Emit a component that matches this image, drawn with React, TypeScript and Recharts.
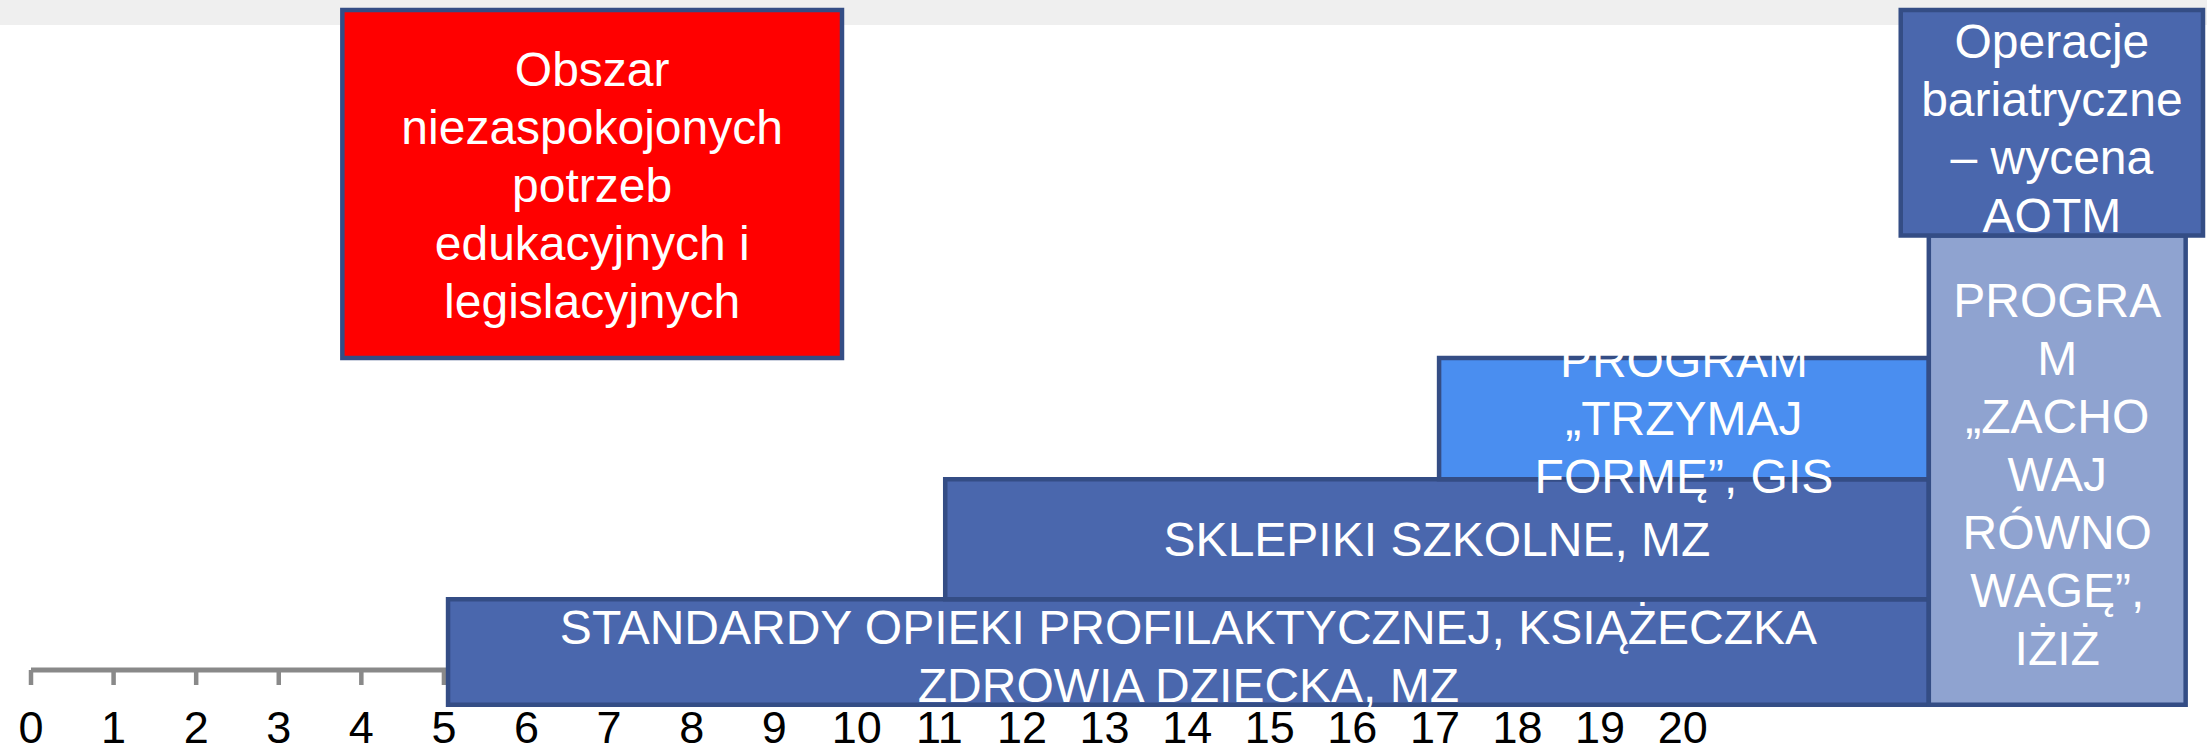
import React from 'react';
import { ComposedChart, XAxis, YAxis, ReferenceArea, ReferenceLine } from 'recharts';

// age axis (years)
const ageTicks = [0, 1, 2, 3, 4, 5, 6, 7, 8, 9, 10, 11, 12, 13, 14, 15, 16, 17, 18, 19, 20];

// boxes: age from / to, level from / to
const boxIds = ['standardy', 'sklepiki', 'trzymaj', 'obszar', 'zachowaj', 'operacje'];
const boxAgeFrom = [5.05, 11.07, 17.05, 3.77, 22.98, 22.64];
const boxAgeTo = [22.98, 22.98, 22.98, 9.82, 26.09, 26.3];
const boxLevelFrom = [-0.29, 0.59, 1.59, 2.6, -0.29, 3.62];
const boxLevelTo = [0.59, 1.59, 2.6, 5.5, 3.62, 5.5];
const boxText = [
  ['STANDARDY OPIEKI PROFILAKTYCZNEJ, KSIĄŻECZKA', 'ZDROWIA DZIECKA, MZ'],
  ['SKLEPIKI SZKOLNE, MZ'],
  ['PROGRAM', '„TRZYMAJ', 'FORMĘ”, GIS'],
  ['Obszar', 'niezaspokojonych', 'potrzeb', 'edukacyjnych i', 'legislacyjnych'],
  ['PROGRA', 'M', '„ZACHO', 'WAJ', 'RÓWNO', 'WAGĘ”,', 'IŻIŻ'],
  ['Operacje', 'bariatryczne', '– wycena', 'AOTM'],
];

const fills: Record<string, string> = {
  standardy: '#4a67ad',
  sklepiki: '#4a67ad',
  trzymaj: '#4a8ef0',
  obszar: '#ff0000',
  zachowaj: '#8fa3d0',
  operacje: '#4a67ad',
};

// small vertical nudge of the text block inside some boxes
const textShift: Record<string, number> = {
  standardy: 4,
  sklepiki: 0,
  trzymaj: 0,
  obszar: 1,
  zachowaj: 4,
  operacje: 5,
};

const FONT = '"Liberation Sans", Arial, sans-serif';

const BoxLabel = (props: any) => {
  const { viewBox, lines, shift } = props;
  const { x, y, width, height } = viewBox;
  const cx = x + width / 2;
  const cy = y + height / 2 + (shift || 0);
  const lh = 58;
  const start = cy - ((lines.length - 1) * lh) / 2;
  return (
    <text textAnchor="middle" fill="#ffffff" fontSize={48} fontFamily={FONT}>
      {lines.map((l: string, i: number) => (
        <tspan key={i} x={cx} y={start + i * lh} dy="0.35em">
          {l}
        </tspan>
      ))}
    </text>
  );
};

const App = () => {
  return (
    <div style={{ position: 'absolute', left: 0, top: 0, width: 2207, height: 749, background: '#fff' }}>
      <div style={{ position: 'absolute', left: 0, top: 0, width: 2207, height: 25, background: '#efefef' }} />
      <div style={{ position: 'absolute', left: 0, top: 0 }}>
        <ComposedChart width={2207} height={749} data={[]} margin={{ top: 10, right: 4, bottom: 0, left: 31 }}>
          <XAxis
            type="number"
            dataKey="x"
            domain={[0, 26.3]}
            allowDataOverflow
            ticks={ageTicks}
            interval={0}
            height={79}
            axisLine={false}
            tickLine={{ stroke: '#898989', strokeWidth: 4.5 }}
            tickSize={15}
            tickMargin={26}
            tick={{ fill: '#000', fontSize: 45, fontFamily: FONT }}
          />
          <YAxis type="number" domain={[0, 5.5]} allowDataOverflow hide />
          <ReferenceLine
            segment={[
              { x: ageTicks[0], y: 0 },
              { x: ageTicks[ageTicks.length - 1], y: 0 },
            ]}
            stroke="#898989"
            strokeWidth={5}
            ifOverflow="visible"
          />
          {boxIds.map((id, i) => (
            <ReferenceArea
              key={id}
              x1={boxAgeFrom[i]}
              x2={boxAgeTo[i]}
              y1={boxLevelFrom[i]}
              y2={boxLevelTo[i]}
              ifOverflow="visible"
              fill={fills[id]}
              fillOpacity={1}
              stroke="#344d85"
              strokeWidth={4.5}
              strokeOpacity={1}
              zIndex={600 + i}
              label={<BoxLabel lines={boxText[i]} shift={textShift[id]} />}
            />
          ))}
        </ComposedChart>
      </div>
    </div>
  );
};

export default App;
